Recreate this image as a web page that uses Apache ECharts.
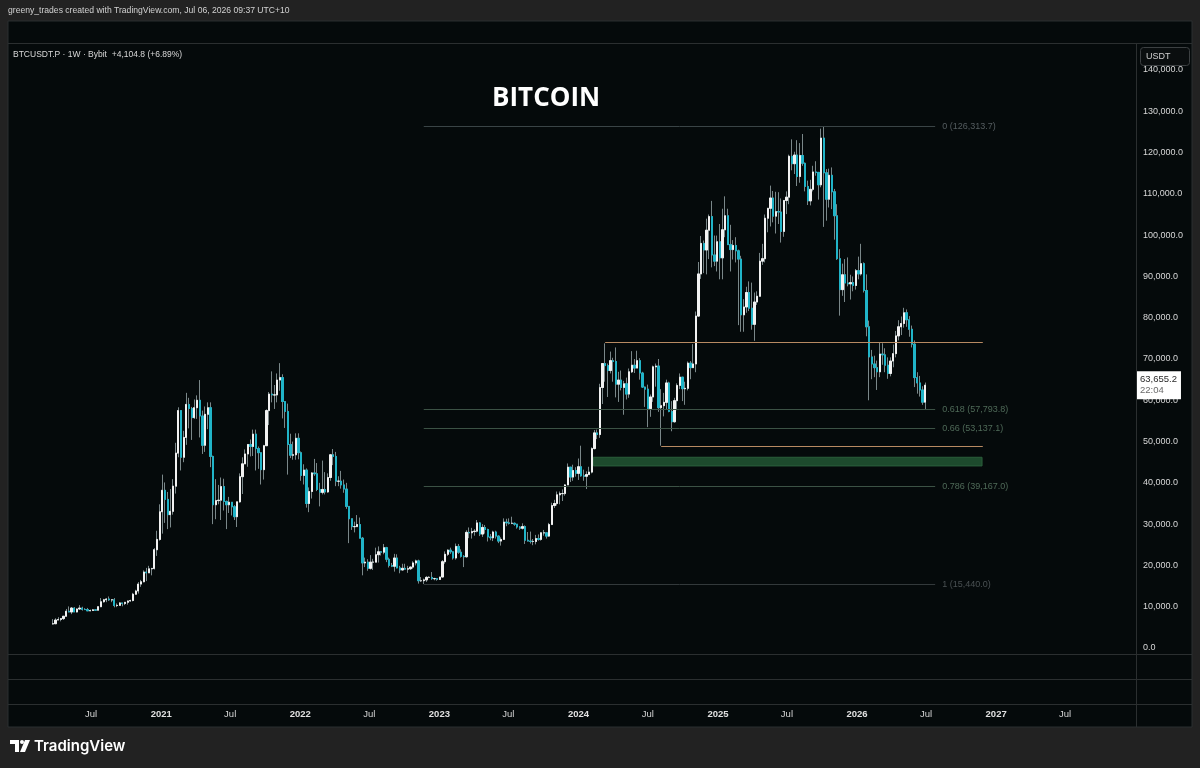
<!DOCTYPE html>
<html>
<head>
<meta charset="utf-8">
<title>BITCOIN</title>
<script src="https://cdn.jsdelivr.net/npm/echarts@6/dist/echarts.min.js"></script>
<style>
  html, body { margin: 0; padding: 0; background: #222222; }
  #main { width: 1200px; height: 768px; }
</style>
</head>
<body>
<div id="main"></div>
<script>
// BTCUSDT.P weekly candles, thousands of USDT, each week = [close, low, high]
// open of a week is the close of the week before
const firstOpen = 5.83;
const yearStarts = ['2020-03-23', '2021-01-04', '2022-01-03', '2023-01-02', '2024-01-01', '2025-01-06', '2026-01-05'];

const weeks2020 = [
  [5.88, 5.69, 6.99], [6.77, 5.86, 7.20], [6.91, 6.77, 7.47], [7.12, 6.46, 7.20], [7.69, 6.79, 7.72],
  [8.90, 7.63, 9.46], [8.72, 8.66, 10.07], [9.67, 8.20, 9.93], [8.72, 8.70, 9.90], [9.45, 8.63, 9.60],
  [9.67, 9.27, 10.40], [9.34, 9.06, 9.99], [9.30, 9.20, 9.65], [9.00, 8.98, 9.70], [9.08, 8.90, 9.30],
  [9.24, 9.05, 9.45], [9.16, 9.00, 9.30], [10.00, 9.10, 10.10], [11.20, 9.90, 12.10], [11.68, 11.00, 11.90],
  [11.87, 11.10, 12.10], [11.65, 11.40, 12.48], [11.68, 11.10, 11.80], [10.28, 9.85, 12.09], [10.33, 9.90, 10.80],
  [10.92, 10.20, 11.10], [10.77, 10.10, 10.90], [11.07, 10.40, 11.10], [11.39, 10.50, 11.50], [11.50, 11.20, 11.70],
  [13.03, 11.30, 13.35], [13.80, 12.90, 14.10], [15.48, 13.20, 15.97], [16.05, 14.80, 16.50], [18.40, 15.90, 18.80],
  [18.20, 16.20, 19.40], [19.17, 18.20, 19.90], [19.27, 17.60, 19.40], [23.80, 19.00, 24.20], [26.30, 22.30, 28.40],
  [33.00, 26.00, 34.80]
];
const weeks2021 = [
  [38.2, 27.7, 42.0], [36.0, 30.3, 40.1], [32.3, 28.8, 37.8], [33.1, 29.2, 38.5], [39.2, 32.3, 40.9],
  [47.2, 37.4, 49.7], [57.5, 46.2, 58.3], [46.2, 43.0, 57.5], [51.0, 45.0, 52.6], [59.0, 49.2, 61.8],
  [58.0, 53.2, 60.6], [55.8, 50.4, 58.4], [58.2, 55.5, 60.2], [60.0, 55.5, 61.2], [56.2, 51.0, 64.9],
  [49.1, 47.0, 57.5], [56.6, 47.5, 58.5], [58.2, 53.0, 59.5], [46.4, 43.8, 59.5], [34.7, 30.0, 46.6],
  [35.7, 31.2, 40.9], [35.8, 34.8, 39.5], [39.1, 31.0, 41.3], [35.5, 33.3, 41.0], [34.7, 28.8, 35.7],
  [35.3, 32.7, 36.6], [34.2, 32.1, 35.1], [31.8, 31.0, 34.6], [35.4, 29.3, 35.4], [41.5, 35.2, 42.3],
  [44.6, 37.3, 46.2], [47.0, 44.6, 48.1], [49.3, 43.9, 49.4], [48.8, 46.4, 50.5], [51.8, 46.5, 52.9],
  [48.3, 43.0, 52.9], [47.3, 43.4, 48.8], [43.2, 39.6, 47.3], [49.0, 40.8, 49.2], [57.5, 49.0, 57.8],
  [61.5, 54.0, 62.0], [61.3, 59.5, 67.0], [61.3, 57.9, 63.7], [64.9, 59.5, 66.5], [65.5, 62.3, 69.0],
  [59.7, 55.6, 66.3], [57.3, 53.3, 59.3], [49.3, 42.0, 59.2], [46.7, 46.0, 51.9], [46.8, 45.6, 50.0],
  [50.8, 45.6, 52.0], [47.3, 45.7, 52.0]
];
const weeks2022 = [
  [41.8, 40.5, 47.6], [43.1, 39.6, 44.5], [35.0, 34.0, 43.5], [37.9, 32.9, 38.9], [42.4, 36.2, 42.6],
  [42.2, 41.7, 45.8], [38.4, 38.0, 44.8], [37.7, 34.3, 40.0], [38.4, 37.2, 45.4], [37.8, 37.2, 42.6],
  [41.3, 37.6, 42.3], [46.8, 40.5, 47.0], [46.4, 44.3, 48.2], [40.4, 39.2, 47.5], [40.4, 39.2, 41.6],
  [39.5, 38.6, 42.9], [38.5, 37.6, 40.8], [34.3, 33.7, 40.0], [31.3, 25.4, 34.3], [29.4, 28.6, 31.0],
  [29.4, 28.0, 30.6], [29.9, 29.3, 32.2], [26.6, 26.6, 31.6], [20.6, 17.6, 26.9], [20.8, 19.6, 21.9],
  [19.3, 18.7, 21.5], [20.8, 19.0, 22.5], [20.8, 18.9, 21.6], [22.6, 20.8, 24.3], [23.3, 20.7, 24.6],
  [23.2, 22.4, 23.5], [24.3, 22.7, 25.2], [21.5, 20.8, 24.5], [20.0, 19.5, 21.9], [19.8, 19.6, 20.6],
  [21.8, 18.5, 22.8], [19.4, 19.3, 22.7], [18.9, 18.1, 19.9], [19.3, 18.8, 20.4], [19.1, 19.0, 20.4],
  [19.2, 18.2, 19.9], [19.6, 18.9, 19.7], [20.6, 19.2, 21.0], [21.1, 20.0, 21.4], [16.3, 15.6, 21.4],
  [16.3, 16.0, 17.2], [16.5, 15.5, 16.8], [17.1, 16.0, 17.4], [17.1, 16.9, 17.4], [16.8, 16.5, 18.4],
  [16.8, 16.4, 17.0], [16.6, 16.3, 16.9]
];
const weeks2023 = [
  [17.2, 16.5, 17.2], [20.9, 17.1, 21.3], [22.7, 20.4, 23.4], [23.7, 22.3, 23.9], [23.3, 22.8, 24.3],
  [21.8, 21.4, 23.4], [24.6, 21.4, 25.3], [23.2, 22.8, 25.2], [22.2, 21.9, 23.9], [22.1, 19.6, 22.5],
  [28.0, 21.9, 28.5], [27.9, 26.6, 29.2], [28.2, 26.5, 29.1], [28.3, 27.2, 28.8], [30.3, 28.0, 31.0],
  [27.6, 27.1, 30.5], [29.2, 26.9, 30.0], [28.7, 27.7, 29.8], [26.9, 25.8, 28.9], [26.7, 26.1, 27.6],
  [28.1, 25.9, 28.4], [27.1, 26.5, 28.4], [25.9, 25.4, 27.3], [26.3, 24.8, 26.8], [30.5, 26.2, 31.4],
  [30.3, 29.5, 31.3], [30.2, 29.9, 31.4], [30.2, 30.0, 31.8], [30.0, 29.6, 30.4], [29.3, 28.9, 30.0],
  [29.0, 28.6, 29.5], [29.4, 28.7, 30.2], [26.1, 25.2, 29.7], [25.9, 25.8, 28.1], [25.8, 25.3, 28.2],
  [25.8, 24.9, 26.4], [26.5, 25.1, 27.4], [26.3, 26.0, 27.5], [27.9, 26.0, 28.0], [27.9, 27.2, 28.6],
  [27.1, 26.5, 27.9], [29.9, 26.9, 30.3], [34.5, 29.9, 35.2], [35.0, 33.9, 35.9], [37.1, 34.5, 37.9],
  [37.4, 34.8, 37.9], [37.4, 35.6, 38.4], [39.5, 36.9, 39.7], [43.8, 39.5, 44.7], [41.4, 40.2, 43.4],
  [43.0, 40.5, 44.4], [42.3, 41.5, 43.8]
];
const weeks2024 = [
  [43.9, 40.7, 45.9], [41.7, 41.5, 49.0], [41.6, 40.5, 43.2], [42.0, 38.5, 42.8], [42.6, 41.9, 43.9],
  [48.3, 42.3, 48.6], [52.1, 48.1, 52.8], [51.7, 50.6, 52.9], [63.1, 50.9, 64.0], [68.9, 59.1, 69.0],
  [68.4, 64.5, 73.8], [67.2, 60.8, 68.9], [69.6, 66.5, 71.8], [69.4, 64.5, 70.3], [63.9, 60.7, 72.8],
  [64.9, 59.6, 66.9], [63.1, 62.4, 67.2], [64.0, 56.5, 64.7], [61.5, 60.2, 65.5], [66.9, 60.6, 67.7],
  [68.5, 66.6, 71.9], [67.8, 66.6, 70.0], [69.6, 68.5, 72.0], [66.6, 65.0, 70.2], [63.2, 63.0, 66.9],
  [62.7, 58.4, 63.3], [58.0, 53.5, 63.8], [60.8, 56.0, 61.4], [68.1, 59.6, 68.4], [68.3, 63.3, 68.9],
  [58.2, 57.2, 70.0], [58.7, 49.0, 62.7], [59.5, 56.1, 61.8], [64.2, 57.8, 65.0], [57.3, 57.1, 64.5],
  [54.8, 52.5, 59.8], [59.9, 54.6, 60.6], [63.6, 57.6, 64.1], [65.6, 62.7, 66.5], [62.8, 59.8, 65.5],
  [62.9, 58.9, 64.5], [69.0, 62.4, 69.4], [67.9, 65.1, 69.5], [68.8, 68.2, 73.6], [80.4, 66.8, 81.5],
  [90.6, 80.2, 93.5], [98.0, 89.4, 99.8], [96.4, 90.8, 98.7], [101.2, 90.5, 104.0], [104.5, 94.2, 105.0],
  [95.2, 92.2, 108.3], [93.7, 92.5, 99.9], [98.4, 91.2, 99.9]
];
const weeks2025 = [
  [94.5, 89.3, 102.7], [101.3, 89.3, 106.4], [104.7, 99.5, 109.4], [97.7, 97.7, 106.4], [96.5, 91.2, 102.5],
  [97.5, 94.1, 98.8], [96.2, 93.4, 99.5], [94.2, 78.2, 96.5], [80.7, 76.6, 95.0], [82.6, 76.6, 84.5],
  [86.1, 81.2, 87.5], [82.3, 81.6, 88.8], [78.4, 77.1, 88.5], [83.8, 74.4, 86.1], [85.2, 83.1, 86.4],
  [93.7, 85.1, 95.7], [94.3, 92.8, 97.9], [104.1, 93.4, 105.0], [106.5, 100.7, 106.6], [109.0, 102.1, 112.0],
  [104.6, 103.1, 110.7], [105.7, 100.4, 110.5], [105.6, 102.7, 110.4], [100.9, 98.2, 108.9], [108.4, 99.6, 108.5],
  [109.2, 105.1, 110.6], [119.1, 107.5, 119.5], [117.3, 115.7, 123.2], [119.4, 114.8, 120.2], [114.2, 111.9, 123.0],
  [119.3, 112.7, 122.3], [117.4, 116.8, 124.5], [111.8, 110.6, 117.6], [108.3, 107.3, 113.2], [111.1, 107.2, 113.4],
  [115.3, 110.6, 116.8], [115.2, 114.4, 117.9], [112.2, 108.6, 113.5], [123.5, 111.6, 125.8], [115.1, 102.0, 126.3],
  [108.7, 103.5, 116.0], [114.5, 106.7, 116.1], [110.5, 106.3, 116.4], [104.7, 98.9, 111.2], [94.3, 94.0, 107.5],
  [86.8, 80.5, 96.6], [90.4, 85.3, 93.1], [88.4, 83.8, 94.2], [88.2, 87.6, 94.6], [88.5, 84.4, 90.4],
  [87.8, 86.4, 90.0], [91.4, 86.8, 91.8]
];
const weeks2026 = [
  [90.6, 89.3, 94.8], [93.1, 90.2, 97.9], [86.6, 86.1, 93.4], [77.8, 75.5, 90.5], [70.5, 60.0, 79.3],
  [68.8, 65.1, 72.2], [67.9, 65.6, 70.8], [66.9, 62.5, 69.6], [71.2, 65.6, 74.0], [71.0, 68.6, 73.8],
  [68.5, 66.8, 72.6], [66.5, 65.2, 70.4], [69.5, 65.8, 70.4], [71.3, 68.0, 73.5], [75.6, 70.4, 76.8],
  [77.8, 74.5, 79.4], [78.6, 75.8, 80.3], [81.2, 77.6, 82.4], [79.5, 77.8, 82.0], [77.2, 75.4, 80.4],
  [73.6, 72.8, 78.1], [65.5, 63.2, 74.5], [64.2, 61.6, 66.8], [62.5, 60.9, 65.9], [59.5504, 58.9, 63.4],
  [63.6552, 57.8, 64.3]
];
const yearWeeks = [weeks2020, weeks2021, weeks2022, weeks2023, weeks2024, weeks2025, weeks2026];

// fibonacci retracement, drawn from the Nov 2022 low to the Oct 2025 high
const fibLevels = ['0', '0.618', '0.66', '0.786', '1'];
const fibPrices = [126313.7, 57793.8, 53137.1, 39167.0, 15440.0];
const fibFrom = '2022-11-21';
const fibTo = '2026-07-25';

// horizontal levels and demand zone
const levelPrices = [74100, 48900];
const levelFrom = ['2024-03-11', '2024-08-05'];
const levelTo = '2026-11-27';
const zonePrices = [44100, 46200];
const zoneFrom = '2024-02-09';
const zoneTo = '2026-11-25';

const lastPrice = 63655.2;
const countdown = '22:04';

// time axis tick labels
const timeTicks = ['2020-07-01', '2021-01-01', '2021-07-01', '2022-01-01', '2022-07-01', '2023-01-01', '2023-07-01',
  '2024-01-01', '2024-07-01', '2025-01-01', '2025-07-01', '2026-01-01', '2026-07-01', '2027-01-01', '2027-07-01'];

const DAY = 86400000;
const utc = s => Date.parse(s + 'T00:00:00Z');
function fmt(v) {
  return v.toFixed(1).replace(/\B(?=(\d{3})+(?!\d))/g, ',');
}

let candles = [];
let bodies = [];
let prev = firstOpen;
yearWeeks.forEach((weeks, yi) => {
  const t0 = utc(yearStarts[yi]);
  weeks.forEach((w, i) => {
    const t = t0 + i * 7 * DAY;
    const o = prev, c = w[0];
    const lo = Math.min(w[1], o, c), hi = Math.max(w[2], o, c);
    candles.push([t, o * 1000, c * 1000, lo * 1000, hi * 1000]);
    bodies.push([t, o * 1000, c * 1000, Math.min(o, c) * 1000, Math.max(o, c) * 1000]);
    prev = c;
  });
});

const fibLine = ['#3a4446', '#3c5245', '#3c5245', '#3c5245', '#33393b'];
const fibText = ['#555d60', '#4f6a58', '#4f6a58', '#4f6a58', '#4a5153'];

let markLines = fibPrices.map((p, i) => [
  { coord: [utc(fibFrom), p], lineStyle: { color: fibLine[i], width: 1, type: 'solid' } },
  { coord: [utc(fibTo), p], label: {
      show: true, position: 'end', distance: 7, formatter: fibLevels[i] + ' (' + fmt(p) + ')',
      color: fibText[i], fontSize: 9, fontFamily: 'Liberation Sans'
  } }
]);
levelPrices.forEach((p, i) => {
  markLines.push([
    { coord: [utc(levelFrom[i]), p], lineStyle: { color: '#b88a62', width: 1, type: 'solid' } },
    { coord: [utc(levelTo), p], label: { show: false } }
  ]);
});

const chart = echarts.init(document.getElementById('main'));
chart.setOption({
  backgroundColor: '#222222',
  animation: false,
  title: {
    text: 'BITCOIN', left: 487, top: 81,
    textStyle: { color: '#ffffff', fontSize: 26, fontWeight: 'bold', fontFamily: 'Open Sans' }
  },
  grid: { left: 8, right: 64, top: 70, bottom: 120 },
  xAxis: {
    type: 'value',
    min: utc('2019-11-26'),
    max: utc('2028-01-03'),
    axisLine: { show: false },
    axisTick: { show: false },
    splitLine: { show: false },
    axisLabel: {
      customValues: timeTicks.map(utc),
      margin: 61,
      color: '#d4d4d4',
      fontSize: 9.5,
      fontFamily: 'Liberation Sans',
      formatter: v => {
        const d = new Date(v);
        return d.getUTCMonth() === 0 ? '{y|' + d.getUTCFullYear() + '}' : 'Jul';
      },
      rich: { y: { fontWeight: 'bold', fontSize: 9.5, color: '#e0e0e0', fontFamily: 'Liberation Sans' } }
    }
  },
  yAxis: [{
    type: 'value', position: 'right', min: 0, max: 140000, interval: 10000,
    axisLine: { show: false }, axisTick: { show: false }, splitLine: { show: false },
    axisLabel: { margin: 7, color: '#d8d8d8', fontSize: 9, fontFamily: 'Liberation Sans', formatter: v => fmt(v) }
  }, {
    type: 'value', position: 'right', min: 0, max: 140000, z: 5,
    axisLine: { show: false }, axisTick: { show: false }, splitLine: { show: false },
    axisLabel: {
      customValues: [lastPrice], margin: 1,
      formatter: () => '{p|' + fmt(lastPrice) + '}\n{t|' + countdown + '}',
      backgroundColor: '#ffffff', padding: [3, 4, 3, 3],
      rich: {
        p: { color: '#2a2a2a', fontSize: 9.5, lineHeight: 11, fontFamily: 'Liberation Sans' },
        t: { color: '#6a6a6a', fontSize: 9.5, lineHeight: 11, fontFamily: 'Liberation Sans' }
      }
    }
  }],
  series: [{
    type: 'line', data: [], z: 1, silent: true,
    markLine: { silent: true, symbol: ['none', 'none'], animation: false, data: markLines },
    markArea: {
      silent: true,
      itemStyle: { color: '#1d4a2d', borderColor: '#2b5e3b', borderWidth: 1 },
      data: [[{ coord: [utc(zoneFrom), zonePrices[0]] }, { coord: [utc(zoneTo), zonePrices[1]] }]]
    }
  }, {
    // full range wicks
    type: 'candlestick', name: 'wicks', data: candles, z: 2, silent: true, barWidth: 1.8,
    encode: { x: 0, y: [1, 2, 3, 4] },
    itemStyle: { color: '#7a8789', color0: '#7a8789', borderColor: '#7a8789', borderColor0: '#7a8789', borderColorDoji: '#7a8789', borderWidth: 1 }
  }, {
    // open/close bodies
    type: 'candlestick', name: 'BTCUSDT.P', data: bodies, z: 3, silent: true, barWidth: 1.8,
    encode: { x: 0, y: [1, 2, 3, 4] },
    itemStyle: { color: '#f2f2f2', color0: '#20b4c8', borderColor: '#f2f2f2', borderColor0: '#20b4c8', borderColorDoji: '#f2f2f2', borderWidth: 1 }
  }],
  graphic: [
    { type: 'rect', z: -10, shape: { x: 8, y: 21, width: 1184, height: 706 }, style: { fill: '#050a0b', stroke: '#2b2f30', lineWidth: 1 } },
    { type: 'line', z: -5, shape: { x1: 8, y1: 43.5, x2: 1192, y2: 43.5 }, style: { stroke: '#2b2f30', lineWidth: 1 } },
    { type: 'line', z: -5, shape: { x1: 8, y1: 654.5, x2: 1192, y2: 654.5 }, style: { stroke: '#2b2f30', lineWidth: 1 } },
    { type: 'line', z: -5, shape: { x1: 8, y1: 679.5, x2: 1192, y2: 679.5 }, style: { stroke: '#2b2f30', lineWidth: 1 } },
    { type: 'line', z: -5, shape: { x1: 8, y1: 704.5, x2: 1192, y2: 704.5 }, style: { stroke: '#2b2f30', lineWidth: 1 } },
    { type: 'line', z: -5, shape: { x1: 1136.5, y1: 43, x2: 1136.5, y2: 727 }, style: { stroke: '#2b2f30', lineWidth: 1 } },
    { type: 'text', z: 50, x: 8, y: 11, style: {
      text: 'greeny_trades created with TradingView.com, Jul 06, 2026 09:37 UTC+10',
      fill: '#d2d2d2', font: '8.6px "Liberation Sans"', verticalAlign: 'middle'
    } },
    { type: 'text', z: 50, x: 13, y: 55, style: {
      text: 'BTCUSDT.P \u00b7 1W \u00b7 Bybit  +4,104.8 (+6.89%)',
      fill: '#d8d8d8', font: '8.5px "Liberation Sans"', verticalAlign: 'middle'
    } },
    { type: 'rect', z: 100, shape: { x: 1140.5, y: 47.5, width: 49, height: 18, r: 3 }, style: { fill: '#0a0e0f', stroke: '#3c4042', lineWidth: 1 } },
    { type: 'text', z: 101, x: 1146, y: 57, style: { text: 'USDT', fill: '#d0d0d0', font: '9px "Liberation Sans"', verticalAlign: 'middle' } },
    // TradingView logo
    { type: 'rect', z: 50, shape: { x: 10, y: 740, width: 9, height: 4 }, style: { fill: '#ffffff' } },
    { type: 'rect', z: 50, shape: { x: 15, y: 740, width: 4, height: 12 }, style: { fill: '#ffffff' } },
    { type: 'circle', z: 50, shape: { cx: 22, cy: 742, r: 2 }, style: { fill: '#ffffff' } },
    { type: 'polygon', z: 50, shape: { points: [[25, 740], [30, 740], [25, 752], [20, 752]] }, style: { fill: '#ffffff' } },
    { type: 'text', z: 50, x: 34, y: 746, style: { text: 'TradingView', fill: '#ffffff', font: '600 15px Inter', verticalAlign: 'middle' } }
  ]
});
</script>
</body>
</html>
